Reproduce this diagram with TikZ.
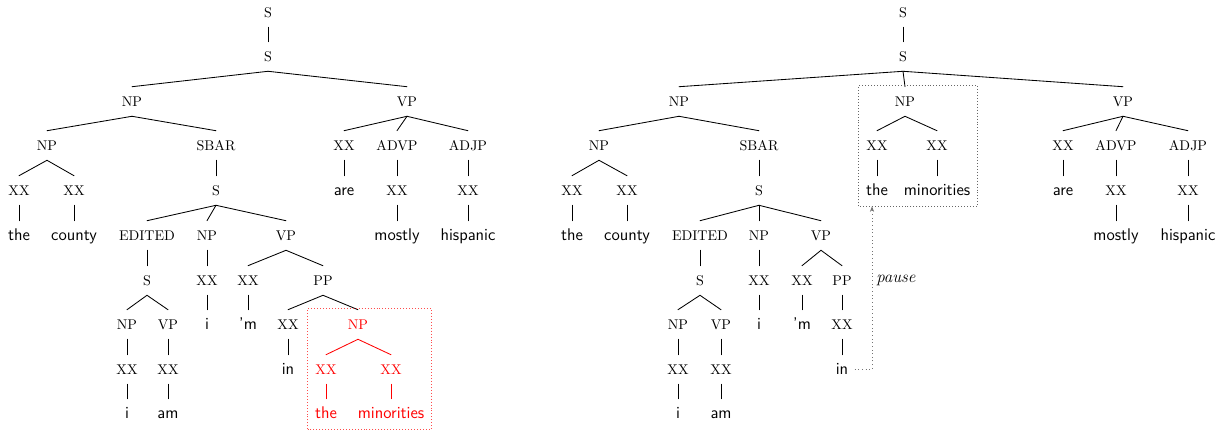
\documentclass[tikz,border=0pt]{standalone}
\usetikzlibrary{fit,arrows.meta}
\begin{document}
\begin{tikzpicture}[x=0.71pt,y=-0.71pt,
 tn/.style={anchor=base, inner xsep=4.3pt, inner ysep=5pt, text height=8.5pt, text depth=2.1pt},
 lab/.style={tn, font=\fontsize{10}{12}\selectfont\rmfamily},
 wd/.style={tn, font=\fontsize{12}{14}\selectfont\sffamily},
 hl/.style={text=red},
 edge/.style={line width=0.6pt, line cap=round},
 redge/.style={edge, draw=red},
 fitbox/.style={inner sep=0.5pt},
 boxline/.style={line width=0.6pt, dash pattern=on 0.7pt off 1.4pt}]
\useasboundingbox (0,0) rectangle (1225,432);
% ---------------- left tree ----------------
\node[lab] (L1) at (268,17) {S};
\node[lab] (L2) at (268,61) {S};
\node[lab] (L3) at (132,106) {NP};
\node[lab] (L4) at (407,106) {VP};
\node[lab] (L5) at (47,150) {NP};
\node[lab] (L6) at (216,150) {SBAR};
\node[lab] (L7) at (344,150) {XX};
\node[lab] (L8) at (397,150) {ADVP};
\node[lab] (L9) at (468,150) {ADJP};
\node[lab] (L10) at (19,195) {XX};
\node[lab] (L11) at (74,195) {XX};
\node[lab] (L12) at (216,195) {S};
\node[wd]  (L13) at (344,195) {are};
\node[lab] (L14) at (397,195) {XX};
\node[lab] (L15) at (468,195) {XX};
\node[wd]  (L16) at (19,240) {the};
\node[wd]  (L17) at (74,240) {county};
\node[lab] (L18) at (147,240) {EDITED};
\node[lab] (L19) at (207,240) {NP};
\node[lab] (L20) at (286,240) {VP};
\node[wd]  (L21) at (397,240) {mostly};
\node[wd]  (L22) at (468,240) {hispanic};
\node[lab] (L23) at (147,285) {S};
\node[lab] (L24) at (207,285) {XX};
\node[lab] (L25) at (248,285) {XX};
\node[lab] (L26) at (323,285) {PP};
\node[lab] (L27) at (127,329) {NP};
\node[lab] (L28) at (168,329) {VP};
\node[wd]  (L29) at (207,329) {i};
\node[wd]  (L30) at (248,329) {'m};
\node[lab] (L31) at (288,329) {XX};
\node[lab,hl] (L32) at (358,329) {NP};
\node[lab] (L33) at (127,374) {XX};
\node[lab] (L34) at (168,374) {XX};
\node[wd]  (L35) at (288,374) {in};
\node[lab,hl] (L36) at (326,374) {XX};
\node[lab,hl] (L37) at (391,374) {XX};
\node[wd]  (L38) at (127,418) {i};
\node[wd]  (L39) at (168,418) {am};
\node[wd,hl] (L40) at (326,418) {the};
\node[wd,hl] (L41) at (391,418) {minorities};
\foreach \p/\c in {L1/L2,L2/L3,L2/L4,L3/L5,L3/L6,L4/L7,L4/L8,L4/L9,L5/L10,L5/L11,
  L6/L12,L7/L13,L8/L14,L9/L15,L10/L16,L11/L17,L12/L18,L12/L19,L12/L20,L14/L21,
  L15/L22,L18/L23,L19/L24,L20/L25,L20/L26,L23/L27,L23/L28,L24/L29,L25/L30,L26/L31,
  L26/L32,L27/L33,L28/L34,L31/L35,L33/L38,L34/L39}
  \draw[edge] (\p.south) -- (\c.north);
\foreach \p/\c in {L32/L36,L32/L37,L36/L40,L37/L41}
  \draw[redge] (\p.south) -- (\c.north);
\node[fitbox, fit=(L32)(L36)(L37)(L40)(L41)] (lbox) {};
\draw[boxline, color=red!70] (lbox.south west) rectangle (lbox.north east);
% ---------------- right tree ----------------
\node[lab] (R1) at (903,17) {S};
\node[lab] (R2) at (903,61) {S};
\node[lab] (R3) at (679,106) {NP};
\node[lab] (R4) at (905,106) {NP};
\node[lab] (R5) at (1123,106) {VP};
\node[lab] (R6) at (599,150) {NP};
\node[lab] (R7) at (759,150) {SBAR};
\node[lab] (R8) at (877,150) {XX};
\node[lab] (R9) at (937,150) {XX};
\node[lab] (R10) at (1063,150) {XX};
\node[lab] (R11) at (1116,150) {ADVP};
\node[lab] (R12) at (1188,150) {ADJP};
\node[lab] (R13) at (572,195) {XX};
\node[lab] (R14) at (627,195) {XX};
\node[lab] (R15) at (759,195) {S};
\node[wd]  (R16) at (877,195) {the};
\node[wd]  (R17) at (937,195) {minorities};
\node[wd]  (R18) at (1063,195) {are};
\node[lab] (R19) at (1116,195) {XX};
\node[lab] (R20) at (1188,195) {XX};
\node[wd]  (R21) at (572,240) {the};
\node[wd]  (R22) at (627,240) {county};
\node[lab] (R23) at (700,240) {EDITED};
\node[lab] (R24) at (759,240) {NP};
\node[lab] (R25) at (821,240) {VP};
\node[wd]  (R26) at (1116,240) {mostly};
\node[wd]  (R27) at (1188,240) {hispanic};
\node[lab] (R28) at (700,285) {S};
\node[lab] (R29) at (759,285) {XX};
\node[lab] (R30) at (802,285) {XX};
\node[lab] (R31) at (842,285) {PP};
\node[lab] (R32) at (678,329) {NP};
\node[lab] (R33) at (721,329) {VP};
\node[wd]  (R34) at (759,329) {i};
\node[wd]  (R35) at (802,329) {'m};
\node[lab] (R36) at (842,329) {XX};
\node[lab] (R37) at (678,374) {XX};
\node[lab] (R38) at (721,374) {XX};
\node[wd]  (R39) at (842,374) {in};
\node[wd]  (R40) at (678,418) {i};
\node[wd]  (R41) at (721,418) {am};
\foreach \p/\c in {R1/R2,R2/R3,R2/R4,R2/R5,R3/R6,R3/R7,R4/R8,R4/R9,R5/R10,R5/R11,
  R5/R12,R6/R13,R6/R14,R7/R15,R8/R16,R9/R17,R10/R18,R11/R19,R12/R20,R13/R21,
  R14/R22,R15/R23,R15/R24,R15/R25,R19/R26,R20/R27,R23/R28,R24/R29,R25/R30,R25/R31,
  R28/R32,R28/R33,R29/R34,R30/R35,R31/R36,R32/R37,R33/R38,R36/R39,R37/R40,R38/R41}
  \draw[edge] (\p.south) -- (\c.north);
\node[fitbox, fit=(R4)(R8)(R9)(R16)(R17)] (rbox) {};
\draw[boxline, color=black!60] (rbox.south west) rectangle (rbox.north east);
\coordinate (ax) at (872,0);
\draw[dotted, line width=0.6pt, black!55, -{Stealth[length=4pt,width=3pt]}]
  (R39.east) -- (R39.east -| ax) -- (ax |- rbox.south);
\node[anchor=west, inner sep=0pt, font=\fontsize{12}{14}\selectfont\itshape] (pz) at (876,280) {pause};
\end{tikzpicture}
\end{document}
